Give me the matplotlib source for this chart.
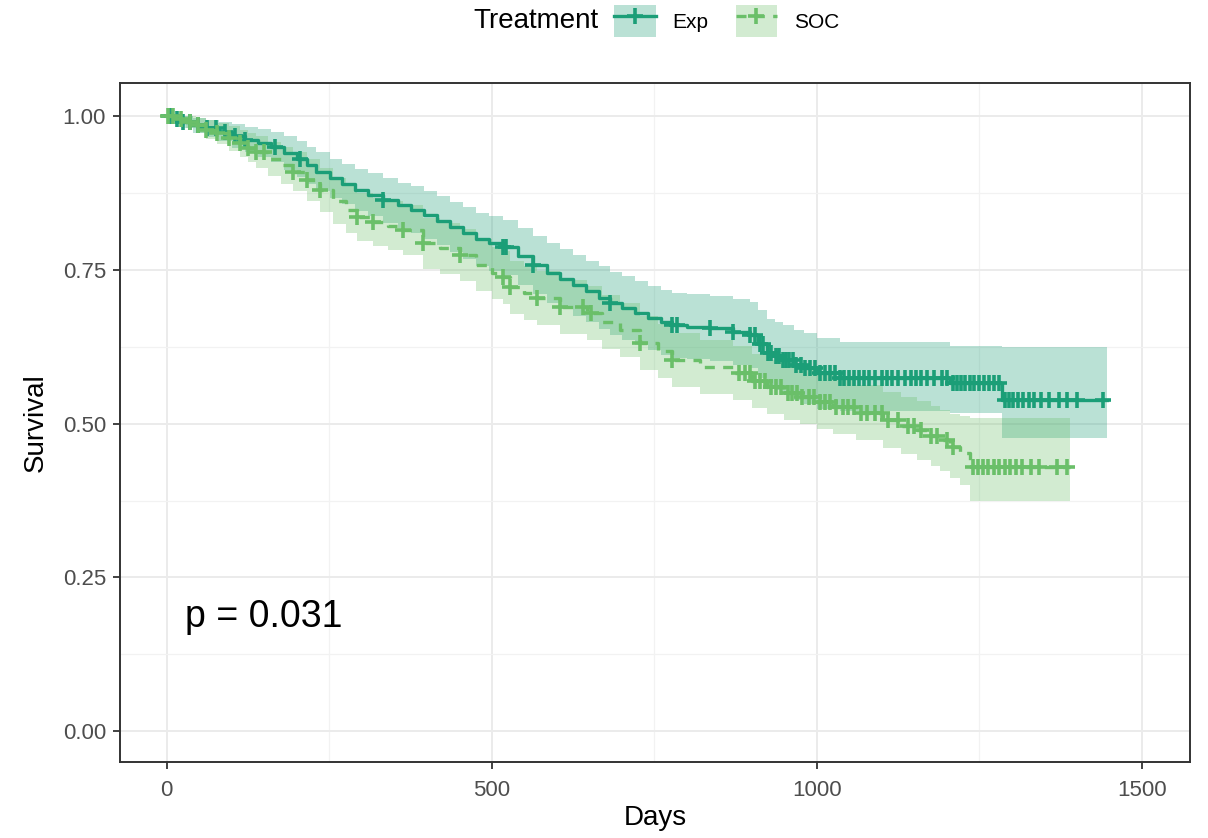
import numpy as np
import matplotlib.pyplot as plt
from matplotlib.patches import Patch
from matplotlib.lines import Line2D
from matplotlib.ticker import MultipleLocator

plt.rcParams['font.family'] = ['Liberation Sans', 'DejaVu Sans']

# Kaplan-Meier estimates
groups = ['Exp', 'SOC']
colors = ['#1B9E77', '#6ABF69']

# Exp arm : step times, survival and confidence band
exp_t = [0, 10, 25, 40, 60, 80, 100, 120, 140, 160, 180, 200, 215, 230, 251, 270, 290, 310,
         332, 355, 375, 395, 415, 435, 455, 475, 495, 517, 540, 563, 585, 605, 625, 645, 665,
         682, 700, 720, 740, 760, 778, 800, 835, 871, 897, 910, 923, 935, 948, 965, 980, 1000,
         1035, 1205, 1285, 1446]
exp_s = [1.0, 0.995, 0.99, 0.985, 0.98, 0.975, 0.968, 0.962, 0.956, 0.95, 0.94, 0.93, 0.92,
         0.91, 0.899, 0.89, 0.88, 0.872, 0.863, 0.855, 0.848, 0.84, 0.83, 0.82, 0.81, 0.80,
         0.793, 0.787, 0.772, 0.758, 0.745, 0.735, 0.725, 0.715, 0.705, 0.696, 0.688, 0.68,
         0.672, 0.665, 0.66, 0.658, 0.655, 0.649, 0.644, 0.63, 0.615, 0.61, 0.603, 0.596, 0.59,
         0.582, 0.574, 0.566, 0.538, 0.538]
exp_lo = [1.0, 0.988, 0.98, 0.973, 0.966, 0.959, 0.949, 0.941, 0.933, 0.925, 0.913, 0.901,
          0.89, 0.879, 0.867, 0.857, 0.846, 0.837, 0.827, 0.818, 0.81, 0.801, 0.79, 0.779,
          0.768, 0.757, 0.749, 0.742, 0.726, 0.711, 0.697, 0.686, 0.675, 0.665, 0.654, 0.645,
          0.636, 0.628, 0.62, 0.612, 0.607, 0.605, 0.602, 0.595, 0.59, 0.575, 0.559, 0.554,
          0.546, 0.539, 0.532, 0.524, 0.52, 0.517, 0.476, 0.476]
exp_hi = [1.0, 1.0, 1.0, 0.997, 0.994, 0.991, 0.987, 0.983, 0.979, 0.975, 0.967, 0.959, 0.95,
          0.941, 0.931, 0.923, 0.914, 0.907, 0.899, 0.892, 0.886, 0.879, 0.87, 0.861, 0.852,
          0.843, 0.837, 0.832, 0.818, 0.805, 0.793, 0.784, 0.775, 0.765, 0.756, 0.747, 0.74,
          0.732, 0.724, 0.718, 0.713, 0.711, 0.708, 0.703, 0.698, 0.685, 0.671, 0.666, 0.66,
          0.653, 0.648, 0.64, 0.633, 0.627, 0.625, 0.625]

exp_cens = [3, 8, 15, 25, 35, 48, 62, 75, 90, 105, 120, 166, 205, 332, 517, 522, 563, 682, 778,
            785, 835, 871, 897, 905, 912, 918, 925, 930, 937, 942, 948, 953, 958, 963, 968, 975,
            982, 990, 998, 1005, 1012, 1020, 1028, 1035, 1042, 1050, 1058, 1065, 1073, 1080,
            1090, 1100, 1108, 1115, 1125, 1135, 1145, 1152, 1160, 1170, 1180, 1192, 1200, 1210,
            1215, 1222, 1228, 1235, 1242, 1250, 1258, 1265, 1272, 1280, 1290, 1296, 1302, 1310,
            1318, 1326, 1334, 1345, 1358, 1372, 1385, 1400, 1440]

# SOC arm : step times, survival and confidence band
soc_t = [0, 15, 30, 45, 60, 77, 95, 112, 125, 138, 155, 175, 194, 215, 235, 255, 275, 292, 317,
         340, 363, 394, 420, 451, 475, 500, 517, 528, 550, 569, 605, 646, 670, 697, 728, 755,
         778, 820, 871, 900, 923, 950, 974, 1000, 1025, 1060, 1102, 1130, 1154, 1175, 1189,
         1205, 1220, 1235, 1389]
soc_s = [1.0, 0.995, 0.99, 0.985, 0.978, 0.972, 0.964, 0.956, 0.949, 0.942, 0.93, 0.92, 0.91,
         0.896, 0.88, 0.862, 0.848, 0.836, 0.828, 0.822, 0.815, 0.793, 0.785, 0.774, 0.758,
         0.745, 0.738, 0.722, 0.713, 0.704, 0.69, 0.68, 0.665, 0.652, 0.631, 0.618, 0.603,
         0.592, 0.582, 0.57, 0.559, 0.55, 0.543, 0.535, 0.527, 0.518, 0.506, 0.497, 0.489,
         0.48, 0.473, 0.462, 0.452, 0.43, 0.43]
soc_lo = [1.0, 0.988, 0.98, 0.973, 0.963, 0.955, 0.944, 0.934, 0.925, 0.916, 0.902, 0.89,
          0.878, 0.862, 0.844, 0.825, 0.81, 0.797, 0.789, 0.782, 0.775, 0.752, 0.744, 0.732,
          0.716, 0.702, 0.695, 0.679, 0.669, 0.66, 0.646, 0.636, 0.621, 0.608, 0.587, 0.574,
          0.559, 0.548, 0.538, 0.526, 0.515, 0.506, 0.499, 0.491, 0.483, 0.473, 0.46, 0.45,
          0.441, 0.431, 0.423, 0.411, 0.40, 0.375, 0.375]
soc_hi = [1.0, 1.0, 1.0, 0.997, 0.993, 0.989, 0.984, 0.978, 0.973, 0.968, 0.958, 0.95, 0.942,
          0.93, 0.916, 0.899, 0.886, 0.875, 0.867, 0.862, 0.855, 0.834, 0.826, 0.816, 0.80,
          0.788, 0.781, 0.765, 0.757, 0.748, 0.734, 0.724, 0.709, 0.696, 0.675, 0.662, 0.647,
          0.636, 0.626, 0.614, 0.603, 0.594, 0.587, 0.579, 0.571, 0.563, 0.552, 0.544, 0.537,
          0.529, 0.523, 0.515, 0.512, 0.51, 0.51]

soc_cens = [2, 10, 22, 35, 48, 60, 77, 95, 112, 125, 138, 150, 194, 215, 235, 292, 317, 363,
            394, 451, 517, 528, 569, 605, 640, 652, 728, 778, 880, 890, 898, 905, 912, 920, 930,
            938, 945, 955, 962, 970, 978, 988, 995, 1005, 1012, 1020, 1030, 1040, 1048, 1058,
            1068, 1078, 1090, 1100, 1110, 1125, 1140, 1150, 1160, 1175, 1185, 1200, 1210, 1240,
            1248, 1256, 1264, 1272, 1280, 1290, 1298, 1306, 1316, 1330, 1342, 1370, 1385]

pval_text = 'p = 0.031'

arms = [
    (exp_t, exp_s, exp_lo, exp_hi, exp_cens, '-'),
    (soc_t, soc_s, soc_lo, soc_hi, soc_cens, (0, (3, 2.5))),
]

fig = plt.figure(figsize=(12.08, 8.38), dpi=100)
ax = fig.add_axes([0.0993, 0.0907, 0.8857, 0.8103])

# bands first, like ggplot
for (t, s, lo, hi, cens, ls), col in zip(arms, colors):
    ax.fill_between(t, lo, hi, step='post', color=col, alpha=0.3, linewidth=0)

for (t, s, lo, hi, cens, ls), col in zip(arms, colors):
    ax.step(t, s, where='post', color=col, linewidth=2.4, linestyle=ls)
    s_arr = np.array(s)
    idx = np.searchsorted(np.array(t), cens, side='right') - 1
    ax.plot(cens, s_arr[idx], linestyle='none', marker='+', color=col,
            markersize=12, markeredgewidth=2.6)

ax.text(28, 0.17, pval_text, fontsize=27, va='baseline', ha='left')

ax.set_xlim(-72, 1574)
ax.set_ylim(-0.05, 1.054)
ax.set_xticks([0, 500, 1000, 1500])
ax.set_yticks([0, 0.25, 0.5, 0.75, 1.0])
ax.set_yticklabels(['0.00', '0.25', '0.50', '0.75', '1.00'])
ax.xaxis.set_minor_locator(MultipleLocator(250))
ax.yaxis.set_minor_locator(MultipleLocator(0.125))
ax.grid(which='major', color='#EBEBEB', linewidth=1.4)
ax.grid(which='minor', color='#F2F2F2', linewidth=0.9)
ax.set_axisbelow(True)
ax.tick_params(which='major', length=5, width=1.3, color='#333333', labelsize=16,
               labelcolor='#4D4D4D')
ax.tick_params(axis='x', pad=8)
ax.tick_params(axis='y', pad=5)
ax.tick_params(which='minor', length=0)
for sp in ax.spines.values():
    sp.set_color('#333333')
    sp.set_linewidth(1.4)

ax.set_xlabel('Days', fontsize=20, labelpad=3)
ax.set_ylabel('Survival', fontsize=20, labelpad=10)

# legend on top
handles = []
for (t, s, lo, hi, cens, ls), col in zip(arms, colors):
    patch = Patch(facecolor=col, alpha=0.3, edgecolor='none')
    line = Line2D([], [], color=col, linewidth=2.4, linestyle=ls, marker='+',
                  markersize=12, markeredgewidth=2.6)
    handles.append((patch, line))

fig.text(598 / 1208, 1 - 21 / 838, 'Treatment', fontsize=20, ha='right', va='center')
fig.legend(handles, groups, loc='center left', bbox_to_anchor=(610 / 1208, 1 - 21 / 838),
           ncol=2, frameon=False, fontsize=15, handlelength=2.0, handleheight=2.0,
           handletextpad=0.8, columnspacing=1.3, borderpad=0.2, borderaxespad=0)

fig.savefig('out.png', dpi=100)
